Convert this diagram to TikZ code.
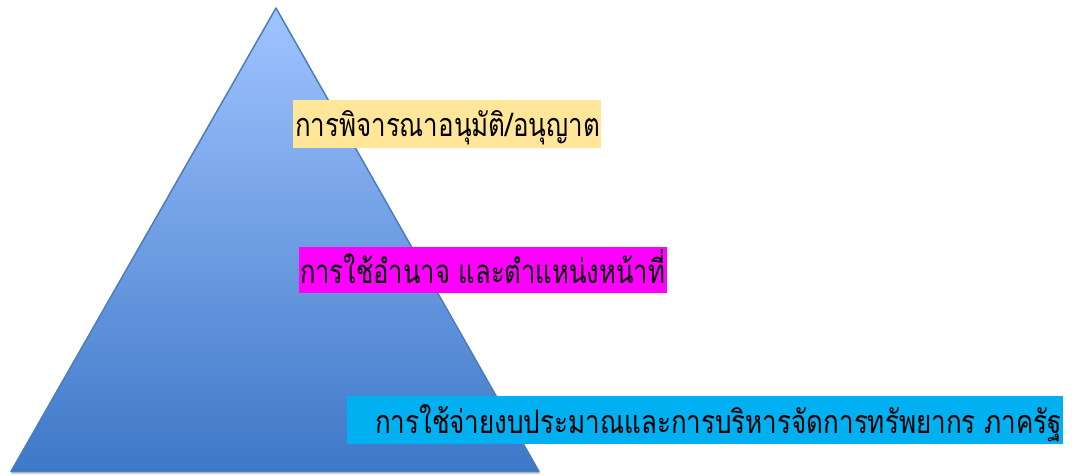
\documentclass[tikz,border=0pt]{standalone}
\usepackage{fontspec}
\newfontfamily\thaifont[Script=Thai]{Loma}
\usepackage{graphicx}
\definecolor{tritop}{RGB}{160,196,255}
\definecolor{tribot}{RGB}{62,120,200}
\definecolor{triedge}{RGB}{74,126,187}
\definecolor{boxyellow}{RGB}{255,230,153}
\definecolor{boxmagenta}{RGB}{255,0,255}
\definecolor{boxcyan}{RGB}{0,176,240}
\begin{document}
\begin{tikzpicture}[x=1pt,y=1pt,
  label box/.style={inner sep=0pt, outer sep=0pt, anchor=base west, font=\thaifont\fontsize{28}{30}\selectfont}]
\useasboundingbox (0,0) rectangle (1074,475);
% shadow under base
\fill[black!35, opacity=0.5] (12,1) -- (540,1) -- (539,4) -- (11,4) -- cycle;
% triangle
\coordinate (apex) at (276,467);
\coordinate (bl) at (11,3.5);
\coordinate (br) at (539,3.5);
\shade[top color=tritop, bottom color=tribot] (apex) -- (br) -- (bl) -- cycle;
\draw[triedge, line width=1.5pt, line join=round] (apex) -- (br) -- (bl) -- cycle;
% boxes
\fill[boxyellow] (293,327) rectangle (601,375);
\node[label box] (t1) at (295,338) {\resizebox{305pt}{26pt}{การพิจารณาอนุมัติ/อนุญาต}};
\fill[boxmagenta] (299,182) rectangle (667,228);
\node[label box] (t2) at (300,192) {\resizebox{365pt}{34pt}{การใช้อำนาจ และตำแหน่งหน้าที่}};
\fill[boxcyan] (347,31) rectangle (1063,79);
\node[label box] (t3) at (375,42) {\resizebox{687pt}{29pt}{การใช้จ่ายงบประมาณและการบริหารจัดการทรัพยากร ภาครัฐ}};
\end{tikzpicture}
\end{document}
